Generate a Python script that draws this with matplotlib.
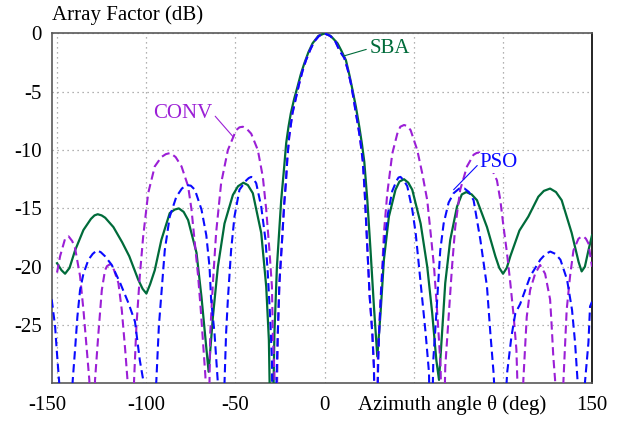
import matplotlib
matplotlib.use("Agg")
import matplotlib.pyplot as plt
import matplotlib.transforms as mtransforms

# array factor (deg, dB); nulls below -30 dB are clipped
sba_theta = [-150, -147.5, -145.5, -143.0, -139.9, -135.2, -131.0, -129.0, -127.2, -125.0, -123.0, -118.4,
             -113.5, -109.5, -104.5, -102.0, -99.9, -97.8, -95.2, -91.5, -86.8, -84.0, -81.7, -79.0, -76.5,
             -71.8, -69.0, -66.2, -65.0, -62.6, -59.8, -56.1, -51.4, -48.5, -45.5, -43.0, -40.2, -35.5,
             -32.7, -31.2, -29.7, -28.1, -26.7, -24.3, -22.6, -21.5, -20.2, -18.9, -17.0, -15.2, -13.3,
             -11.4, -9.0, -6.7, -3.5, 0, 3.5, 7.3, 9.5, 12.0, 14.0, 15.7, 17.6, 19.5, 21.0, 22.3, 24.0,
             25.8, 27.7, 29.6, 31.4, 33.3, 36.1, 39.8, 42.0, 44.6, 47.0, 49.2, 53.9, 57.6, 60.4, 62.7,
             64.2, 65.9, 67.7, 70.5, 74.3, 77.0, 79.5, 82.5, 85.5, 91.1, 95.8, 98.0, 100.1, 102.2, 104.2,
             109.3, 114.3, 119.9, 123.0, 126.5, 129.8, 133.0, 138.6, 142.5, 144.2, 146.0, 148.0, 150]
sba_db = [-19.7, -20.3, -20.6, -20.1, -18.6, -16.85, -15.9, -15.6, -15.5, -15.6, -15.8, -16.6,
          -17.9, -19.1, -21.1, -21.9, -22.3, -21.5, -20.3, -17.7, -15.4, -15.1, -15.0, -15.3, -16.0,
          -18.8, -22.6, -27.1, -29.0, -24.3, -20.0, -16.3, -13.85, -13.1, -12.8, -13.0, -13.7, -17.1,
          -21.7, -26.3, -40, -25.7, -20.0, -14.3, -11.4, -9.4, -8.0, -6.85, -5.6, -4.6, -3.5,
          -2.6, -1.6, -0.85, -0.22, 0, -0.22, -0.85, -1.5, -2.3, -3.6, -4.85, -6.3, -8.0, -9.5, -11.0, -14.3,
          -18.6, -23.4, -27.7, -24.0, -19.4, -15.7, -13.4, -12.7, -12.5, -12.8, -13.4, -16.3, -20.0, -24.0, -28.0,
          -29.7, -25.7, -21.4, -17.7, -14.85, -13.8, -13.6, -13.8, -14.3, -16.6, -19.1, -20.1, -20.6, -20.1, -19.1,
          -16.9, -15.7, -14.0, -13.5, -13.3, -13.6, -14.3, -17.1, -19.6, -20.4, -20.0, -18.6, -17.3]

conv_theta = [-150, -148.3, -145.5, -143.5, -141.5, -139.9, -137.1, -135.2, -133.3, -131.9, -130.3, -128.7,
              -126.8, -124.9, -123.1, -122.0, -120.5, -119.2, -118.0, -115.6, -113.7, -111.8, -110.5, -108.7,
              -106.8, -105.5, -103.6, -101.7, -98.9, -95.2, -91.5, -89.0, -86.5, -83.5, -80.2, -76.5, -74.6,
              -72.7, -70.9, -69.4, -68.1, -66.8, -65.5, -64.1, -62.6, -60.8, -58.0, -54.2, -49.6, -47.7,
              -45.8, -43.5, -41.1, -37.4, -34.6, -32.7, -30.9, -29.5, -29.0, -28.1, -27.5, -26.2, -25.3,
              -24.0, -22.6, -21.7, -20.8, -19.8, -18.0, -16.0, -14.2, -12.3, -10.4, -8.0, -5.8, -3.0, 0,
              3.0, 5.8, 8.5, 11.1, 13.0, 14.8, 16.2, 17.6, 18.8, 20.0, 21.5, 22.5, 23.3, 24.2, 25.3, 26.8,
              27.7, 29.3, 29.9, 31.4, 32.4, 33.3, 35.2, 38.0, 40.8, 42.5, 44.6, 46.5, 48.3, 52.0, 54.8,
              57.6, 59.5, 61.4, 62.7, 64.2, 65.1, 66.2, 67.7, 69.6, 71.5, 73.3, 76.1, 79.9, 83.6, 85.3,
              87.0, 88.8, 90.5, 94.0, 96.7, 98.6, 100.4, 102.3, 104.2, 106.1, 107.6, 110.2, 111.5, 112.4,
              113.4, 115.3, 118.1, 120.9, 123.7, 126.5, 127.4, 128.3, 129.3, 131.5, 134.0, 134.9, 135.8,
              137.7, 139.6, 142.4, 143.8, 145.2, 146.6, 148.0, 150]
conv_db = [-20.5, -19.1, -17.6, -17.4, -17.8, -18.4, -20.8, -23.7, -27.1, -29.7, -40, -29.7,
           -25.7, -22.0, -20.3, -19.95, -19.8, -19.95, -20.3, -21.4, -23.7, -27.1, -29.7, -40,
           -29.7, -25.1, -20.8, -17.4, -13.7, -11.4, -10.6, -10.35, -10.25, -10.6, -11.4, -13.1, -15.1,
           -18.0, -20.8, -23.7, -26.6, -29.4, -40, -25.7, -21.4, -17.1, -12.85, -10.0, -8.3, -8.05,
           -8.0, -8.2, -8.6, -10.0, -12.3, -15.1, -18.6, -21.7, -25.7, -29.1, -40, -25.7, -21.4,
           -18.2, -14.6, -12.85, -10.6, -8.85, -6.85, -5.5, -4.3, -3.2, -2.3, -1.4, -0.7, -0.2, 0,
           -0.2, -0.6, -1.5, -2.1, -3.1, -4.3, -5.5, -6.85, -7.9, -9.1, -11.0, -13.5, -16.0, -19.0, -22.5, -25.7,
           -28.6, -40, -28.0, -22.8, -20.0, -17.1, -13.7, -10.3, -8.6, -8.0, -7.85, -7.95, -8.3, -10.0, -12.0,
           -14.3, -17.1, -20.0, -22.8, -26.3, -28.6, -40, -28.6, -24.3, -20.0, -16.6, -13.4, -11.4, -10.4, -10.25,
           -10.2, -10.4, -10.7, -11.7, -12.6, -14.3, -16.6, -18.8, -21.4, -24.3, -27.1, -40, -29.7, -27.1,
           -24.3, -22.0, -20.6, -19.85, -20.6, -22.8, -25.1, -27.7, -29.7, -40, -29.7, -26.6, -23.7,
           -20.8, -18.6, -17.6, -17.45, -17.4, -17.6, -18.0, -20.0]

pso_theta = [-153, -151.1, -150.2, -148.9, -145.0, -141.2, -139.9, -138.6, -137.1, -135.2, -132.4, -130.0,
             -127.7, -125.5, -123.1, -119.3, -114.6, -110.0, -106.3, -103.6, -101.7, -98.5, -94.3, -92.9,
             -91.5, -89.6, -86.8, -83.1, -80.0, -77.4, -75.0, -72.7, -69.0, -66.3, -64.5, -63.6, -61.7,
             -59.8, -58.0, -56.1, -55.2, -54.2, -52.4, -50.5, -47.7, -43.9, -42.5, -41.1, -39.7, -38.3,
             -35.5, -33.1, -31.8, -30.5, -29.5, -28.8, -26.2, -25.3, -24.0, -22.6, -21.7, -20.8, -19.8,
             -18.0, -16.0, -14.2, -12.3, -10.4, -8.0, -5.8, -3.0, 0, 3.0, 5.8, 8.5, 11.1, 13.0, 14.8, 16.2,
             17.6, 18.8, 20.0, 21.5, 22.5, 23.3, 24.2, 25.3, 26.8, 27.7, 28.5, 30.0, 30.5, 31.8, 33.5,
             35.5, 38.0, 40.5, 41.5, 42.6, 44.5, 46.4, 49.2, 51.1, 53.0, 54.8, 56.7, 58.6, 59.5, 61.0,
             62.5, 64.9, 66.8, 69.6, 72.4, 75.5, 78.5, 81.0, 83.6, 87.4, 91.1, 93.0, 94.8, 98.5, 102.4,
             104.8, 107.0, 109.7, 115.4, 121.0, 124.0, 126.6, 129.5, 132.3, 136.0, 138.8, 140.5, 142.0,
             144.0, 146.0, 148.0, 148.9, 150]
pso_db = [-22.8, -25.1, -27.1, -29.7, -40, -29.7, -27.1, -24.3, -22.0, -20.6, -19.4, -18.9,
          -18.6, -18.75, -19.1, -19.85, -21.4, -23.1, -24.7, -28.0, -29.7, -40, -29.7, -25.1,
          -22.3, -18.6, -15.7, -14.0, -13.3, -13.0, -13.05, -13.4, -15.1, -17.3, -20.0, -22.8, -25.7,
          -30, -40, -30, -25.7, -22.8, -18.6, -15.7, -13.4, -12.6, -12.4, -12.3, -12.5, -12.85,
          -14.85, -17.7, -20.6, -24.3, -28.0, -40, -25.7, -21.4, -18.2, -14.6, -12.85, -10.6, -8.85,
          -6.85, -5.5, -4.3, -3.2, -2.3, -1.4, -0.7, -0.2, 0, -0.2, -0.6, -1.5, -2.1, -3.1, -4.3, -5.5,
          -6.85, -7.9, -9.1, -11.0, -13.5, -16.0, -19.0, -22.5, -25.7, -28.6, -40, -29.0, -26.0, -22.0, -18.0,
          -15.5, -13.5, -12.6, -12.35, -12.3, -12.6, -13.1, -15.1, -17.1, -20.0, -22.8, -25.7, -29.1, -40, -28.0,
          -24.5, -18.6, -16.3, -14.5, -13.7, -13.3, -13.3, -13.6, -14.3, -17.7, -21.7, -25.7, -29.1, -40, -29.1,
          -26.0, -24.0, -23.2, -20.8, -19.4, -18.9, -18.7, -18.9, -19.4, -21.1, -23.7, -26.5, -30,
          -40, -30, -26.5, -23.4, -23.0]

x_ticks = [-150, -100, -50, 0, 50, 100, 150]
x_ticklabels = ['-150', '-100', '-50', '0', '', '', '150']
y_ticks = [0, -5, -10, -15, -20, -25]
y_ticklabels = ['0', '-5', '-10', '-15', '-20', '-25']

GREEN = '#006b3a'
PURPLE = '#9b1fd6'
BLUE = '#0a0aff'

plt.rcParams['font.family'] = ['Liberation Serif', 'DejaVu Serif']
plt.rcParams['font.size'] = 15

fig = plt.figure(figsize=(6.19, 4.23), dpi=100)
ax = fig.add_axes([51.7 / 619, 1 - 383.4 / 423, (592 - 51.7) / 619, (383.4 - 33.4) / 423])

ax.plot(sba_theta, sba_db, color=GREEN, lw=1.6, zorder=3)
ax.plot(conv_theta, conv_db, color=PURPLE, lw=1.5, dashes=(4, 2.2), zorder=4)
ax.plot(pso_theta, pso_db, color=BLUE, lw=1.5, dashes=(4, 2.2), zorder=5)

ax.set_xlim(-153, 150)
ax.set_ylim(-30, 0)
ax.set_xticks(x_ticks)
ax.set_xticklabels(x_ticklabels)
ax.set_yticks(y_ticks)
ax.set_yticklabels(y_ticklabels)
ax.tick_params(axis='both', length=0)
ax.tick_params(axis='y', pad=7)
ax.tick_params(axis='x', pad=9)
ax.grid(True, color='0.6', lw=0.9, linestyle=(0, (1, 3)))

for side in ['top', 'bottom', 'left']:
    ax.spines[side].set_color('0.35')
    ax.spines[side].set_linewidth(1.2)
ax.spines['right'].set_color('black')
ax.spines['right'].set_linewidth(1.2)

# the -150 label sits a bit to the left in the original
lbl = ax.get_xticklabels()[0]
lbl.set_transform(lbl.get_transform() + mtransforms.ScaledTranslation(-9.5 / 100, 0, fig.dpi_scale_trans))

box = dict(fc='white', ec='none', pad=0.5)
ax.annotate('CONV', xy=(-51.2, -8.87), xytext=(-79.3, -6.86), color=PURPLE, ha='center', va='center',
            bbox=box, zorder=6,
            arrowprops=dict(arrowstyle='-', color=PURPLE, lw=0.8, relpos=(1, 0.5), shrinkA=2, shrinkB=0))
ax.annotate('SBA', xy=(10.7, -1.94), xytext=(36.6, -1.29), color=GREEN, ha='center', va='center',
            bbox=box, zorder=6,
            arrowprops=dict(arrowstyle='-', color=GREEN, lw=0.8, relpos=(0, 0.5), shrinkA=2, shrinkB=0))
ax.annotate('PSO', xy=(72.4, -13.4), xytext=(97.8, -11.1), color=BLUE, ha='center', va='center',
            bbox=box, zorder=6,
            arrowprops=dict(arrowstyle='-', color=BLUE, lw=0.8, relpos=(0, 0.5), shrinkA=2, shrinkB=0))

fig.text(52 / 619, 1 - 15 / 423, 'Array Factor (dB)', ha='left', va='center')
fig.text(358 / 619, 1 - 405 / 423, 'Azimuth angle θ (deg)', ha='left', va='center')

fig.savefig('out.png', dpi=100)
